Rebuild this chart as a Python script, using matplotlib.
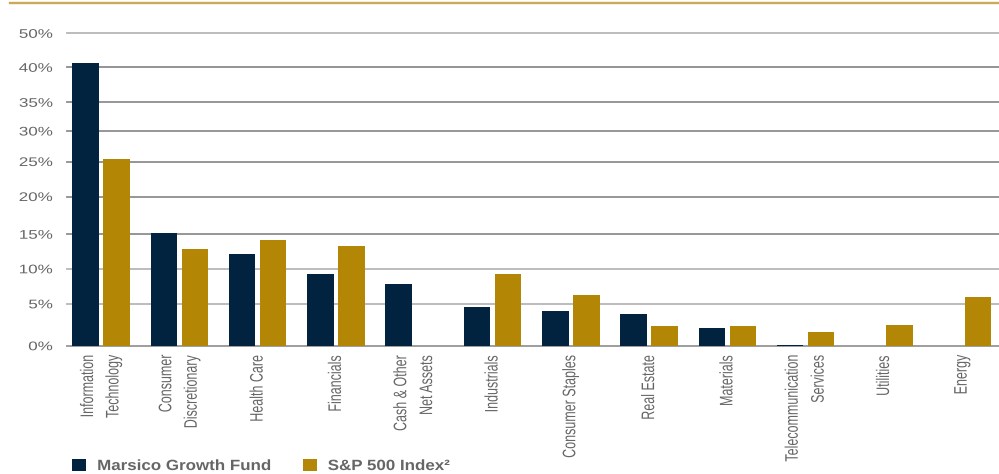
import numpy as np
import matplotlib
matplotlib.use("Agg")
import matplotlib.pyplot as plt
from matplotlib.patheffects import AbstractPathEffect
from matplotlib.transforms import Affine2D
from matplotlib.lines import Line2D
from matplotlib.font_manager import FontProperties

# ---------------- data ----------------
categories = ["Information\nTechnology", "Consumer\nDiscretionary", "Health Care",
              "Financials", "Cash & Other\nNet Assets", "Industrials",
              "Consumer Staples", "Real Estate", "Materials",
              "Telecommunication\nServices", "Utilities", "Energy"]
fund_values = [41.3, 15.2, 12.1, 9.2, 7.9, 4.6, 4.1, 3.8, 2.1, 0.05, 0.0, 0.0]
index_values = [25.4, 12.8, 14.2, 13.3, 0.0, 9.3, 6.3, 2.35, 2.3, 1.65, 2.45, 6.0]
series_names = ["Marsico Growth Fund", "S&P 500 Index²"]
tick_values = [0, 5, 10, 15, 20, 25, 30, 35, 40, 50]
tick_labels = ["0%", "5%", "10%", "15%", "20%", "25%", "30%", "35%", "40%", "50%"]

# ---------------- layout / style ----------------
# gridline heights (pixels above the baseline) as drawn in the reference axis
tick_pixel_heights = [0, 41.9, 76.9, 111.5, 149.2, 184.2, 214.7, 243.4, 278.4, 312.4]
grid_colors = ["#959595", "#b6b6b6", "#b6b6b6", "#8e8e8e", "#8e8e8e", "#8e8e8e",
               "#8e8e8e", "#8e8e8e", "#8a8a8a", "#b6b6b6"]
NAVY = "#012340"
GOLD = "#B38705"
TEXT = "#666666"
FONT = ["Liberation Sans", "DejaVu Sans"]
W, H = 999, 474


class Stretch(AbstractPathEffect):
    """Scale text glyphs on screen (x by sx) about an anchor of each line."""
    def __init__(self, sx=1.0, anchor="center"):
        super().__init__()
        self.sx = sx
        self.anchor = anchor

    def draw_path(self, renderer, gc, tpath, affine, rgbFace=None):
        ext = tpath.get_extents(affine)
        if self.anchor == "right":
            a = ext.x1
        elif self.anchor == "left":
            a = ext.x0
        else:
            a = 0.5 * (ext.x0 + ext.x1)
        t = affine + Affine2D().translate(-a, 0).scale(self.sx, 1).translate(a, 0)
        renderer.draw_path(gc, tpath, t, rgbFace)


def fwd(v):
    return np.interp(v, tick_values, tick_pixel_heights)


def inv(p):
    return np.interp(p, tick_pixel_heights, tick_values)


fig = plt.figure(figsize=(W / 100, H / 100), dpi=100)
left_px, right_px, top_px, bottom_px = 66.7, 999, 33.3, 345.7
ax = fig.add_axes([left_px / W, (H - bottom_px) / H,
                   (right_px - left_px) / W, (bottom_px - top_px) / H])
ax.set_yscale("function", functions=(fwd, inv))

x = np.arange(len(categories))
bw, off = 0.338, 0.198
b1 = ax.bar(x - off, fund_values, width=bw, color=NAVY, zorder=3, label=series_names[0])
b2 = ax.bar(x + off, index_values, width=bw, color=GOLD, zorder=3, label=series_names[1])

ax.set_ylim(0, 50)
ax.set_xlim(-0.438, len(categories) - 1 + 0.469)

for s in ax.spines.values():
    s.set_visible(False)

ax.set_yticks(tick_values)
ylabels = ax.set_yticklabels(tick_labels, fontfamily=FONT, fontsize=9, color=TEXT)
ax.yaxis.set_minor_locator(matplotlib.ticker.NullLocator())
ax.tick_params(axis="y", length=0, pad=10)
ax.yaxis.grid(True, lw=1.3, zorder=0)
ax.set_axisbelow(True)
for gl, c in zip(ax.get_ygridlines(), grid_colors):
    gl.set_clip_on(False)
    gl.set_color(c)
for lbl in ylabels:
    lbl.set_path_effects([Stretch(1.36, "right")])

ax.set_xticks(x)
xlabels = ax.set_xticklabels(categories, rotation=90, va="top", ha="center",
                             multialignment="right", linespacing=2.55,
                             fontfamily=FONT, fontsize=9, color=TEXT)
ax.tick_params(axis="x", length=0, pad=6.5)
for lbl in xlabels:
    lbl.set_path_effects([Stretch(1.45, "center")])

leg = fig.legend([b1, b2], series_names, loc="center left",
                 bbox_to_anchor=(72 / W, 1 - 466 / H), ncol=2, frameon=False,
                 handlelength=0.95, handleheight=0.85, handletextpad=0.75,
                 columnspacing=3.55, borderpad=0, borderaxespad=0,
                 prop=FontProperties(family=FONT, weight="bold", size=10.7))
for t in leg.get_texts():
    t.set_color(TEXT)
    t.set_path_effects([Stretch(1.14, "left")])

fig.add_artist(Line2D([9.5 / W, 1], [1 - 3 / H, 1 - 3 / H], transform=fig.transFigure,
                      color="#C9AB57", lw=1.7))

fig.savefig("out.png", dpi=100)
